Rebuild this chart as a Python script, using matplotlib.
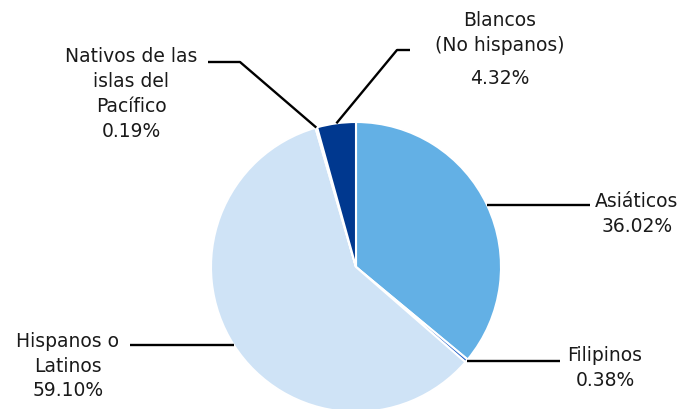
import numpy as np
import matplotlib
matplotlib.use("Agg")
import matplotlib.pyplot as plt

# slices, clockwise from 12 o'clock
labels = ["Asiáticos", "Filipinos", "Hispanos o\nLatinos",
          "Nativos de las\nislas del\nPacífico", "Blancos\n(No hispanos)"]
values = [36.02, 0.38, 59.10, 0.19, 4.32]
colors = ["#63B0E5", "#2F6ACB", "#CFE3F6", "#E8F1FA", "#00388F"]

W, H = 683, 409
cx, cy, r = 356, H - 267, 145

fig = plt.figure(figsize=(W / 100, H / 100), dpi=100)
ax = fig.add_axes([0, 0, 1, 1])
wedges, _ = ax.pie(values, colors=colors, startangle=90, counterclock=False,
                   center=(cx, cy), radius=r,
                   wedgeprops=dict(edgecolor="white", linewidth=1.5))
ax.set_xlim(0, W)
ax.set_ylim(0, H)
ax.set_aspect("equal")
ax.axis("off")

def anchor(w):
    a = np.deg2rad((w.theta1 + w.theta2) / 2)
    return cx + r * np.cos(a), cy + r * np.sin(a)

# leader line bends / ends and label centres (image pixel coords, y down)
legs = [
    [(590, None)],
    [(560, None)],
    [(130, None)],
    [(240, 62), (208, 62)],
    [(397, 50), (410, 50)],
]
spots = [(637, 214), (605, 368), (68, 366), (131, 94), (500, 33)]

kw = dict(ha="center", va="center", fontsize=13.5, color="#1a1a1a",
          linespacing=1.38)
for w, lab, val, leg, (tx, ty) in zip(wedges, labels, values, legs, spots):
    x0, y0 = anchor(w)
    xs, ys = [x0], [y0]
    for px, py in leg:
        xs.append(px)
        ys.append(y0 if py is None else H - py)
    ax.plot(xs, ys, color="black", lw=1.7, solid_capstyle="butt")
    if lab.startswith("Blancos"):
        ax.text(tx, H - ty, lab, **kw)
        ax.text(tx, H - 78, f"{val:.2f}%", **kw)
    else:
        ax.text(tx, H - ty, f"{lab}\n{val:.2f}%", **kw)

fig.savefig("out.png", dpi=100)
